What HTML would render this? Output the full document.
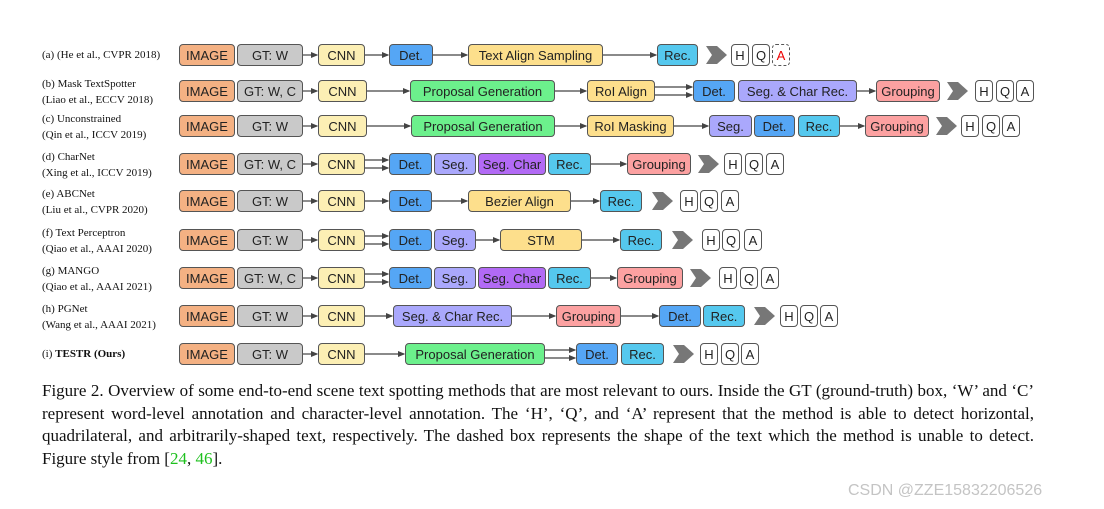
<!DOCTYPE html><html><head><meta charset="utf-8"><style>
body{margin:0;width:1104px;height:509px;background:#fff;position:relative;overflow:hidden;font-family:"Liberation Sans",sans-serif}
.b{position:absolute;height:22px;border:1.3px solid #555;border-radius:4px;box-sizing:border-box;font-size:13px;color:#222;display:flex;align-items:center;justify-content:center;white-space:nowrap}
.l{position:absolute;font-family:"Liberation Serif",serif;font-size:11px;color:#111;line-height:16px}
.cap{position:absolute;left:42px;top:380px;width:992px;font-family:"Liberation Serif",serif;font-size:17px;line-height:22.7px;text-align:justify;color:#111}
svg{position:absolute;left:0;top:0}
</style></head><body>
<svg id="s" width="1104" height="509"></svg>
<div class="cap">Figure 2. Overview of some end-to-end scene text spotting methods that are most relevant to ours. Inside the GT (ground-truth) box, ‘W’ and ‘C’ represent word-level annotation and character-level annotation. The ‘H’, ‘Q’, and ‘A’ represent that the method is able to detect horizontal, quadrilateral, and arbitrarily-shaped text, respectively. The dashed box represents the shape of the text which the method is unable to detect. Figure style from [<span style="color:#1ec01e">24</span>, <span style="color:#1ec01e">46</span>].</div>
<div style="position:absolute;left:848px;top:482px;font-size:16px;color:#c4c4c4">CSDN @ZZE15832206526</div>
<script>
const C={I:'#f4b183',G:'#c9c9c9',N:'#fcefb4',D:'#55a6f5',S:'#aaa8fc',X:'#b26af5',R:'#55c8ee',P:'#6cf08c',Y:'#fddf8c',O:'#fca1a1'};
const rows=[
[55,["(a) (He et al.,  CVPR 2018)"],[['I','IMAGE',179,235],['G','GT: W',237,303],['N','CNN',318,365],['D','Det.',389,433],['Y','Text Align Sampling',468,603],['R','Rec.',657,698]],[706,731,752,772],[],1],
[91,["(b) Mask TextSpotter","(Liao et al.,  ECCV 2018)"],[['I','IMAGE',179,235],['G','GT: W, C',237,303],['N','CNN',318,367],['P','Proposal Generation',410,555],['Y','RoI Align',587,655],['D','Det.',693,735],['S','Seg. & Char Rec.',738,857],['O','Grouping',876,940]],[947,975,996,1016],[5]],
[126,["(c) Unconstrained","(Qin et al.,  ICCV  2019)"],[['I','IMAGE',179,235],['G','GT: W',237,303],['N','CNN',318,367],['P','Proposal Generation',411,555],['Y','RoI Masking',587,674],['S','Seg.',709,752],['D','Det.',754,795],['R','Rec.',798,840],['O','Grouping',865,929]],[936,961,982,1002],[]],
[164,["(d) CharNet","(Xing et al.,  ICCV 2019)"],[['I','IMAGE',179,235],['G','GT: W, C',237,303],['N','CNN',318,365],['D','Det.',389,432],['S','Seg.',434,476],['X','Seg. Char',478,546],['R','Rec.',548,591],['O','Grouping',627,691]],[698,724,745,766],[3]],
[201,["(e) ABCNet","(Liu et al.,  CVPR 2020)"],[['I','IMAGE',179,235],['G','GT: W',237,303],['N','CNN',318,365],['D','Det.',389,432],['Y','Bezier Align',468,571],['R','Rec.',600,642]],[652,680,700,721],[]],
[240,["(f) Text Perceptron","(Qiao et al.,  AAAI 2020)"],[['I','IMAGE',179,235],['G','GT: W',237,303],['N','CNN',318,365],['D','Det.',389,432],['S','Seg.',434,476],['Y','STM',500,582],['R','Rec.',620,662]],[672,702,722,744],[3]],
[278,["(g) MANGO","(Qiao et al.,  AAAI 2021)"],[['I','IMAGE',179,235],['G','GT: W, C',237,303],['N','CNN',318,365],['D','Det.',389,432],['S','Seg.',434,476],['X','Seg. Char',478,546],['R','Rec.',548,591],['O','Grouping',617,683]],[690,719,740,761],[3]],
[316,["(h) PGNet","(Wang et al.,  AAAI 2021)"],[['I','IMAGE',179,235],['G','GT: W',237,303],['N','CNN',318,365],['S','Seg. & Char Rec.',393,512],['O','Grouping',556,621],['D','Det.',659,701],['R','Rec.',703,745]],[754,780,800,820],[]],
[354,["(i) <b>TESTR (Ours)</b>"],[['I','IMAGE',179,235],['G','GT: W',237,303],['N','CNN',318,365],['P','Proposal Generation',405,545],['D','Det.',576,618],['R','Rec.',621,664]],[673,700,721,741],[4]]];
let h='',sv='<defs><marker id="m" markerWidth="6" markerHeight="6" refX="5" refY="3" orient="auto"><path d="M0,0.5L6,3L0,5.5z" fill="#444"/></marker></defs>';
rows.forEach(([y,lab,bx,hq,dbl,dash])=>{
 if(lab.length==1)h+=`<div class="l" style="left:42px;top:${y-8}px">${lab[0]}</div>`;
 else h+=`<div class="l" style="left:42px;top:${y-15}px">${lab[0]}<br>${lab[1]}</div>`;
 bx.forEach((b,i)=>{h+=`<div class="b" style="left:${b[2]}px;top:${y-11}px;width:${b[3]-b[2]}px;background:${C[b[0]]}">${b[1]}</div>`;
  if(i>0){const p=bx[i-1];if(p[3]+3<b[2]){
   if(dbl.includes(i)){[-4,4].forEach(d=>sv+=`<line x1="${p[3]}" y1="${y+d}" x2="${b[2]-1}" y2="${y+d}" stroke="#444" stroke-width="1.2" marker-end="url(#m)"/>`);}
   else sv+=`<line x1="${p[3]}" y1="${y}" x2="${b[2]-1}" y2="${y}" stroke="#444" stroke-width="1.2" marker-end="url(#m)"/>`;}}});
 const a=hq[0];
 sv+=`<polygon points="${a},${y-9} ${a+11},${y-9} ${a+21},${y} ${a+11},${y+9} ${a},${y+9} ${a+6},${y}" fill="#777"/>`;
 ['H','Q','A'].forEach((t,k)=>{const x=hq[k+1];const d=dash&&k==2;
  h+=`<div class="b" style="left:${x}px;top:${y-11}px;width:18px;background:#fff;${d?'border-style:dashed;color:#e00;':''}">${t}</div>`;});
});
document.body.insertAdjacentHTML('beforeend',h);
document.getElementById('s').innerHTML=sv;
</script>
</body></html>
